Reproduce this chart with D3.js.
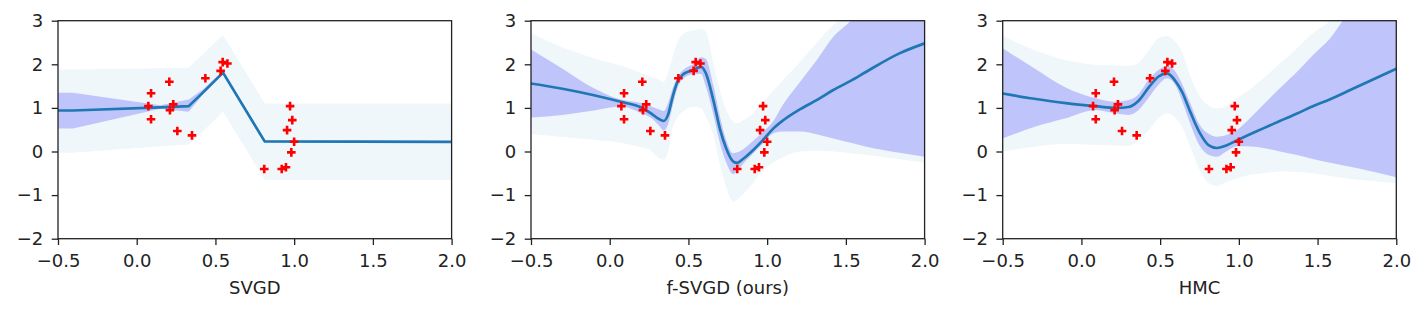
<!DOCTYPE html>
<html><head><meta charset="utf-8">
<script src="https://cdn.jsdelivr.net/npm/d3@7"></script>
<style>body{margin:0;background:#fff} svg{display:block} text{font-family:"DejaVu Sans",sans-serif}</style>
</head><body><svg id="c" width="1427" height="313"></svg>
<script>
// ---- data ----
const xTicks = [-0.5, 0, 0.5, 1, 1.5, 2];
const yTicks = [-2, -1, 0, 1, 2, 3];
const panelLabels = ["SVGD", "f-SVGD (ours)", "HMC"];

// observations (red +)
const obsX = [0.091, 0.207, 0.436, 0.546, 0.576, 0.533, 0.074, 0.232, 0.211, 0.091, 0.258, 0.351, 0.974, 0.988, 0.955, 1.0, 0.982, 0.81, 0.921, 0.948];
const obsY = [1.335, 1.60, 1.68, 2.05, 2.02, 1.85, 1.04, 1.08, 0.95, 0.74, 0.47, 0.37, 1.04, 0.72, 0.49, 0.225, -0.02, -0.40, -0.40, -0.36];

// SVGD
const svgdX       = [-0.5, -0.405, 0.15, 0.33, 0.42, 0.548, 0.813, 2.0];
const svgdMean    = [0.94, 0.94, 1.01, 1.04, 1.35, 1.81, 0.23, 0.22];
const svgdInnerHi = [1.35, 1.35, 1.06, 1.19, 1.42, 1.85, 0.25, 0.24];
const svgdInnerLo = [0.53, 0.53, 0.98, 0.91, 1.30, 1.77, 0.21, 0.20];
const svgdOuterHi = [1.88, 1.88, 1.91, 1.92, 2.23, 2.67, 1.10, 1.10];
const svgdOuterLo = [-0.03, -0.03, 0.12, 0.16, 0.46, 0.91, -0.65, -0.65];

// f-SVGD (ours)
const fsvgdX       = [-0.5, -0.3, -0.1, 0.07, 0.2, 0.26, 0.31, 0.343, 0.37, 0.40, 0.43, 0.47, 0.53, 0.58, 0.61, 0.66, 0.70, 0.74, 0.785, 0.81, 0.85, 0.91, 0.97, 1.04, 1.10, 1.21, 1.32, 1.42, 1.53, 1.63, 1.84, 2.0];
const fsvgdMean    = [1.56, 1.44, 1.29, 1.14, 1.01, 0.88, 0.75, 0.70, 0.84, 1.26, 1.60, 1.78, 1.87, 1.94, 1.80, 1.15, 0.52, 0.07, -0.23, -0.26, -0.16, 0.03, 0.25, 0.53, 0.71, 0.97, 1.19, 1.41, 1.62, 1.83, 2.25, 2.48];
const fsvgdInnerHi = [2.34, 1.90, 1.45, 1.19, 1.11, 1.04, 0.97, 0.93, 1.10, 1.45, 1.70, 1.88, 2.00, 2.16, 2.12, 1.49, 0.80, 0.26, -0.04, -0.02, 0.06, 0.24, 0.44, 0.70, 1.07, 1.60, 2.12, 2.63, 3.0, 3.45, 4.35, 5.0];
const fsvgdInnerLo = [0.78, 0.84, 0.94, 1.03, 0.88, 0.78, 0.61, 0.48, 0.62, 1.05, 1.45, 1.68, 1.77, 1.78, 1.50, 0.82, 0.19, -0.25, -0.52, -0.45, -0.27, -0.05, 0.17, 0.42, 0.46, 0.46, 0.39, 0.30, 0.20, 0.11, -0.03, -0.12];
const fsvgdOuterHi = [2.71, 2.39, 2.14, 1.97, 1.80, 1.72, 1.65, 1.60, 1.80, 2.18, 2.50, 2.70, 2.78, 2.81, 2.75, 2.00, 1.40, 0.95, 0.68, 0.65, 0.72, 0.88, 1.12, 1.40, 1.64, 2.06, 2.52, 2.90, 3.25, 3.65, 4.5, 5.15];
const fsvgdOuterLo = [0.40, 0.33, 0.27, 0.20, 0.10, 0.03, -0.15, -0.19, -0.02, 0.55, 0.78, 0.93, 1.02, 1.00, 0.80, 0.35, -0.30, -0.82, -1.15, -1.10, -0.97, -0.72, -0.45, -0.25, -0.13, 0.00, 0.01, 0.00, -0.04, -0.08, -0.18, -0.26];

// HMC
const hmcX       = [-0.5, -0.3, -0.1, 0.09, 0.22, 0.30, 0.36, 0.43, 0.49, 0.544, 0.60, 0.64, 0.69, 0.75, 0.81, 0.86, 0.92, 0.99, 1.05, 1.155, 1.26, 1.37, 1.47, 1.58, 1.69, 1.79, 2.0];
const hmcMean    = [1.33, 1.21, 1.11, 1.04, 1.00, 1.02, 1.15, 1.48, 1.72, 1.79, 1.60, 1.36, 0.92, 0.44, 0.14, 0.08, 0.14, 0.26, 0.36, 0.53, 0.70, 0.87, 1.04, 1.20, 1.38, 1.55, 1.90];
const hmcInnerHi = [2.37, 1.91, 1.47, 1.22, 1.14, 1.18, 1.30, 1.66, 1.87, 1.96, 1.82, 1.55, 1.12, 0.62, 0.40, 0.34, 0.38, 0.50, 0.69, 1.07, 1.45, 1.83, 2.21, 2.60, 3.15, 3.55, 4.35];
const hmcInnerLo = [0.30, 0.56, 0.76, 0.95, 0.87, 0.84, 0.94, 1.25, 1.53, 1.68, 1.50, 1.15, 0.65, 0.14, -0.08, -0.12, 0.00, 0.12, 0.12, 0.08, 0.00, -0.08, -0.17, -0.26, -0.34, -0.41, -0.59];
const hmcOuterHi = [2.65, 2.33, 2.10, 1.99, 1.97, 1.96, 2.03, 2.33, 2.60, 2.65, 2.50, 2.27, 1.75, 1.28, 1.05, 0.99, 1.04, 1.22, 1.37, 1.68, 2.02, 2.37, 2.71, 3.0, 3.4, 3.75, 4.5];
const hmcOuterLo = [0.00, 0.11, 0.17, 0.15, 0.14, 0.13, 0.24, 0.50, 0.76, 0.88, 0.76, 0.56, 0.12, -0.42, -0.73, -0.79, -0.70, -0.62, -0.55, -0.50, -0.46, -0.47, -0.50, -0.56, -0.62, -0.66, -0.73];

const panels = [
  {label: panelLabels[0], x: svgdX, mean: svgdMean, iHi: svgdInnerHi, iLo: svgdInnerLo, oHi: svgdOuterHi, oLo: svgdOuterLo, curve: d3.curveLinear},
  {label: panelLabels[1], x: fsvgdX, mean: fsvgdMean, iHi: fsvgdInnerHi, iLo: fsvgdInnerLo, oHi: fsvgdOuterHi, oLo: fsvgdOuterLo, curve: d3.curveMonotoneX},
  {label: panelLabels[2], x: hmcX, mean: hmcMean, iHi: hmcInnerHi, iLo: hmcInnerLo, oHi: hmcOuterHi, oLo: hmcOuterLo, curve: d3.curveMonotoneX}
];

// ---- layout ----
const svg = d3.select("#c");
const lefts = [58, 531, 1002.7];
const plotTop = 20.7, pw = 393.6, ph = 218;
const fs = 18;

panels.forEach((p, i) => {
  const g = svg.append("g").attr("transform", `translate(${lefts[i]},${plotTop})`);
  const x = d3.scaleLinear().domain([-0.5, 2]).range([0, pw]);
  const y = d3.scaleLinear().domain([-2, 3]).range([ph, 0]);
  const cid = "clip" + i;
  g.append("clipPath").attr("id", cid).append("rect").attr("width", pw).attr("height", ph);
  const plot = g.append("g").attr("clip-path", `url(#${cid})`);
  const idx = d3.range(p.x.length);
  const area = (lo, hi) => d3.area().x(j => x(p.x[j])).y0(j => y(lo[j])).y1(j => y(hi[j])).curve(p.curve);
  plot.append("path").datum(idx).attr("d", area(p.oLo, p.oHi)).attr("fill", "#eff7fa");
  plot.append("path").datum(idx).attr("d", area(p.iLo, p.iHi)).attr("fill", "#0000ff").attr("fill-opacity", 0.2);
  plot.append("path").datum(idx)
    .attr("d", d3.line().x(j => x(p.x[j])).y(j => y(p.mean[j])).curve(p.curve))
    .attr("fill", "none").attr("stroke", "#1f77b4").attr("stroke-width", 2.7);
  const s = 4.3;
  g.append("g").selectAll("path").data(d3.range(obsX.length)).join("path")
    .attr("d", j => { const cx = x(obsX[j]), cy = y(obsY[j]); return `M${cx - s},${cy}H${cx + s}M${cx},${cy - s}V${cy + s}`; })
    .attr("stroke", "#ff0000").attr("stroke-width", 2.6).attr("fill", "none");

  const ax = g.append("g").attr("transform", `translate(0,${ph})`)
    .call(d3.axisBottom(x).tickValues(xTicks).tickFormat(d3.format(".1f")).tickSize(6.3).tickPadding(9.5));
  const ay = g.append("g")
    .call(d3.axisLeft(y).tickValues(yTicks).tickFormat(d3.format("d")).tickSize(6.3).tickPadding(8.4));
  [ax, ay].forEach(a => {
    a.select(".domain").remove();
    a.selectAll("line").attr("stroke", "#222").attr("stroke-width", 1.3);
    a.selectAll("text").attr("fill", "#222").style("font-size", fs + "px").style("font-family", "DejaVu Sans");
  });
  g.append("rect").attr("width", pw).attr("height", ph).attr("fill", "none").attr("stroke", "#222").attr("stroke-width", 1.3);
  g.append("text").attr("x", pw / 2).attr("y", 294 - plotTop).attr("text-anchor", "middle")
    .style("font-size", fs + "px").attr("fill", "#222").text(p.label);
});
</script></body></html>
